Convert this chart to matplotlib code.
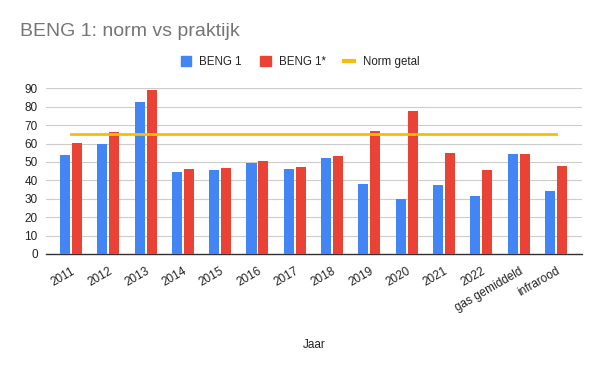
import matplotlib
matplotlib.use("Agg")
import matplotlib.pyplot as plt
import numpy as np
from matplotlib.lines import Line2D
from matplotlib.patches import Patch

plt.rcParams['font.family'] = ['Liberation Sans', 'DejaVu Sans']

categories = ["2011", "2012", "2013", "2014", "2015", "2016", "2017", "2018",
              "2019", "2020", "2021", "2022", "gas gemiddeld", "infrarood"]
beng1 = [54, 60, 82.6, 44.5, 45.6, 49.4, 46.2, 52.1, 38, 30, 37.5, 31.5, 54.3, 34.2]
beng1_star = [60.3, 66.3, 89, 46.2, 46.7, 50.5, 47.3, 53.2, 66.8, 77.7, 54.9, 45.6, 54.3, 47.8]
norm_getal = [65] * len(categories)

blue = "#4285F4"
red = "#EA4335"
yellow = "#FBBC04"

fig = plt.figure(figsize=(6, 3.71), dpi=100)
ax = fig.add_axes([46/600, 1-254/371, (582-46)/600, (254-88.3)/371])

x = np.arange(len(categories))
w = 0.27
ax.bar(x - 0.16, beng1, width=w, color=blue, zorder=3)
ax.bar(x + 0.16, beng1_star, width=w, color=red, zorder=3)
ax.plot(x, norm_getal, color=yellow, lw=2, zorder=4)

ax.set_xlim(-0.67, len(categories) - 1 + 0.70)
ax.set_ylim(0, 90)
ax.set_yticks(np.arange(0, 91, 10))
ax.yaxis.grid(True, color="#cccccc", lw=0.8, zorder=0)
ax.set_axisbelow(True)
for s in ["top", "right", "left"]:
    ax.spines[s].set_visible(False)
ax.spines["bottom"].set_color("#333333")
ax.spines["bottom"].set_linewidth(1)
ax.tick_params(axis="both", length=0, labelsize=8.5, colors="#222222")
ax.tick_params(axis="y", pad=6)
ax.set_xticks(x)
ax.set_xticklabels(categories, rotation=30, ha="right", rotation_mode="anchor")
for lbl in ax.get_xticklabels():
    lbl.set_x(lbl.get_position()[0])
ax.tick_params(axis="x", pad=8)

fig.text(314/600, 1-345/371, "Jaar", ha="center", va="center", fontsize=8.5, color="#222222")
fig.text(20/600, 1-31/371, "BENG 1: norm vs praktijk", ha="left", va="center",
         fontsize=14, color="#757575")

handles = [Patch(color=blue, label="BENG 1"),
           Patch(color=red, label="BENG 1*"),
           Line2D([0], [0], color=yellow, lw=3, label="Norm getal")]
fig.legend(handles=handles, loc="center", bbox_to_anchor=(300/600, 1-62/371), ncol=3,
           frameon=False, fontsize=8.3, handlelength=0.9, handleheight=0.9,
           handletextpad=0.7, columnspacing=1.6, labelcolor="#222222")

fig.savefig("out.png", dpi=100)
